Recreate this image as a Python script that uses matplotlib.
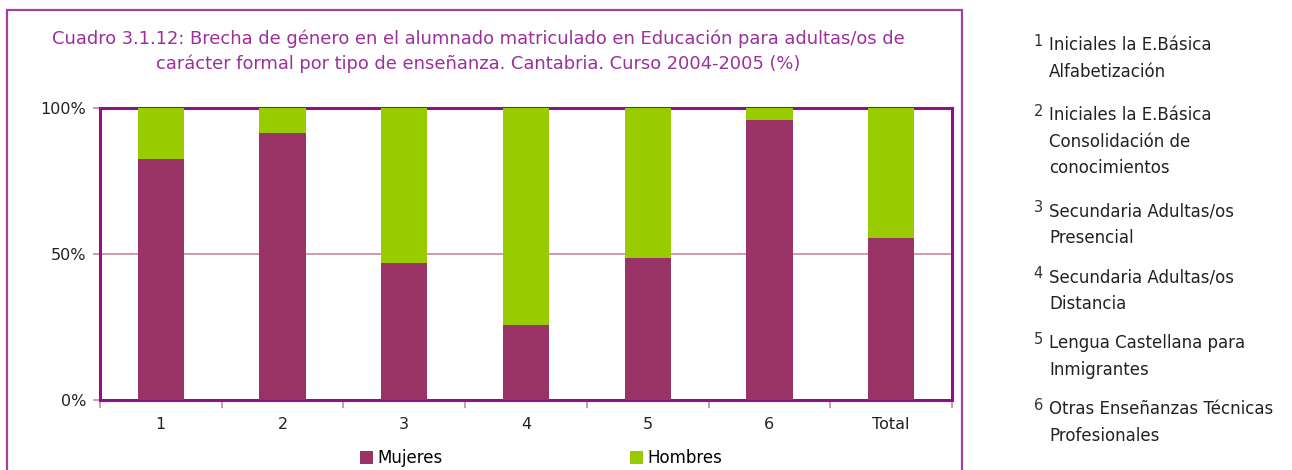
import numpy as np
import matplotlib.pyplot as plt
from matplotlib.patches import Rectangle
from matplotlib.ticker import FuncFormatter

plt.rcParams['font.family'] = ['DejaVu Sans']

categorias = ['1', '2', '3', '4', '5', '6', 'Total']
mujeres = [82.6, 91.4, 47.0, 25.7, 48.6, 95.9, 55.5]
hombres = [100 - m for m in mujeres]

notas_num = ['1', '2', '3', '4', '5', '6']
notas_txt = ['Iniciales la E.Básica\nAlfabetización',
             'Iniciales la E.Básica\nConsolidación de\nconocimientos',
             'Secundaria Adultas/os\nPresencial',
             'Secundaria Adultas/os\nDistancia',
             'Lengua Castellana para\nInmigrantes',
             'Otras Enseñanzas Técnicas\nProfesionales']

titulo = ('Cuadro 3.1.12: Brecha de género en el alumnado matriculado en Educación para adultas/os de\n'
          'carácter formal por tipo de enseñanza. Cantabria. Curso 2004-2005 (%)')

c_muj = '#993366'
c_hom = '#99CC00'
morado = '#9b2f9b'

W, H = 1292, 470
fig = plt.figure(figsize=(W / 100, H / 100), dpi=100)

# marco exterior del grafico
fig.patches.append(Rectangle((7 / W, -0.05), 955 / W, 1.05 - 10 / H,
                             transform=fig.transFigure, fill=False,
                             edgecolor='#a040a0', lw=1.6))

ax = fig.add_axes([100 / W, 70 / H, 852 / W, 292 / H])
x = np.arange(len(categorias))
ax.bar(x, mujeres, width=0.38, color=c_muj, label='Mujeres', zorder=3)
ax.bar(x, hombres, width=0.38, bottom=mujeres, color=c_hom, label='Hombres', zorder=3)

ax.set_xlim(-0.5, len(categorias) - 0.5)
ax.set_ylim(0, 100)
ax.set_yticks([0, 50, 100])
ax.yaxis.set_major_formatter(FuncFormatter(lambda v, p: '%d%%' % v))
ax.axhline(50, color='#cc88aa', lw=1.2, zorder=1)

ax.set_xticks(x)
ax.set_xticklabels(categorias)
ax.set_xticks(np.arange(len(categorias) + 1) - 0.5, minor=True)
ax.tick_params(axis='x', which='major', length=0, pad=12, labelsize=11.5, colors='#222222')
ax.tick_params(axis='x', which='minor', length=6, color='#cc88aa', width=1.2)
ax.tick_params(axis='y', length=5, color='#cc88aa', width=1.2, labelsize=11.5,
               labelcolor='#222222', pad=5)

for s in ax.spines.values():
    s.set_color('#8c128c')
    s.set_linewidth(2.2)

fig.text(478 / W, 1 - 51.5 / H, titulo, ha='center', va='center', color=morado,
         fontsize=12.9, linespacing=1.45)

fig.legend(loc='center', bbox_to_anchor=(541 / W, 1 - 458 / H), ncol=2, frameon=False,
           fontsize=12, handlelength=0.8, handleheight=0.8, handletextpad=0.25,
           columnspacing=11.2, borderaxespad=0)

# notas laterales
y0 = [45, 115, 211, 277, 343, 409]
for num, txt, yy in zip(notas_num, notas_txt, y0):
    fig.text(1043 / W, 1 - (yy - 3) / H, num, ha='right', va='center',
             fontsize=10.5, color='#333333')
    fig.text(1049 / W, 1 - (yy - 9) / H, txt, ha='left', va='top',
             fontsize=12, color='#222222', linespacing=1.62)

fig.savefig('out.png', dpi=100)
